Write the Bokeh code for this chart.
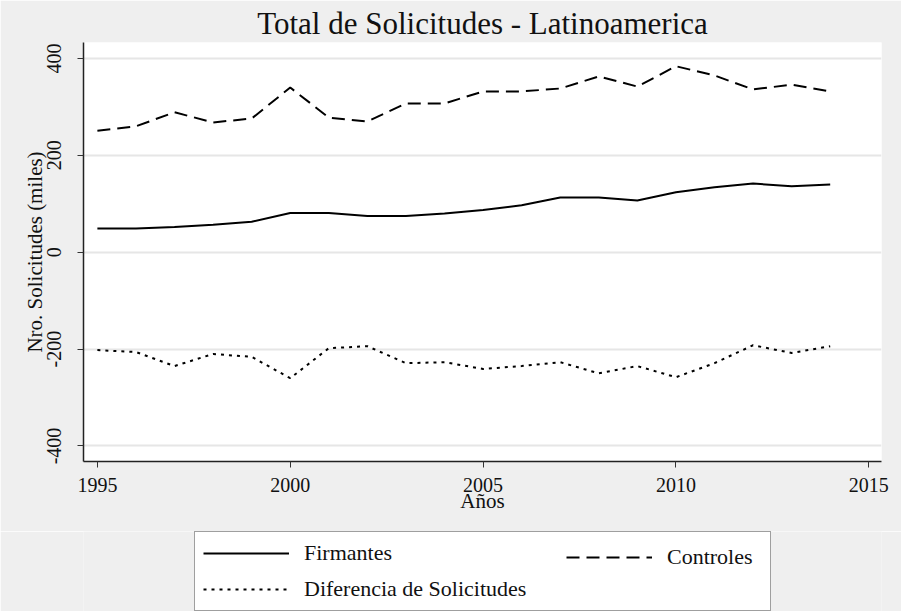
from bokeh.plotting import figure
from bokeh.layouts import column
from bokeh.models import Range1d, Legend, LegendItem, FixedTicker, ColumnDataSource
from bokeh.embed import file_html
from bokeh.resources import INLINE

years = list(range(1995, 2015))
firmantes = [49, 49, 52, 57, 63, 81, 81, 75, 75, 80, 87, 97, 113, 113, 107, 124, 134, 142, 136, 140]
controles = [251, 260, 289, 268, 276, 340, 278, 270, 307, 307, 332, 332, 338, 363, 342, 384, 365, 336, 346, 332]
diferencia = [-202, -206, -235, -210, -216, -260, -198, -194, -229, -227, -241, -235, -227, -250, -235, -258, -229, -192, -208, -194]

x_ticks = [1995, 2000, 2005, 2010, 2015]
y_ticks = [-400, -200, 0, 200, 400]
labels = ["Firmantes", "Controles", "Diferencia de Solicitudes"]

FONT = "Liberation Serif"
BG = "#efefef"
DASHES = ["solid", "13 7", "3 5"]

src = ColumnDataSource(dict(year=years, f=firmantes, c=controles, d=diferencia))
cols = ["f", "c", "d"]

p = figure(frame_width=798, frame_height=419, output_backend="svg", toolbar_location=None,
           x_range=Range1d(1994.64, 2015.33), y_range=Range1d(-432, 433),
           background_fill_color="white", border_fill_color=BG,
           min_border_left=83, min_border_right=20, min_border_top=42, min_border_bottom=70)
p.outline_line_color = None

p.title.text = "Total de Solicitudes - Latinoamerica"
p.title.align = "center"
p.title.text_font = FONT
p.title.text_font_size = "31px"
p.title.text_font_style = "normal"
p.title.text_color = "#111111"
p.title.standoff = 4
p.title.offset = 0

for c, d in zip(cols, DASHES):
    p.line("year", c, source=src, line_color="black", line_width=2, line_dash=d)

p.xgrid.grid_line_color = None
p.ygrid.grid_line_color = "#e6e6e6"
p.ygrid.grid_line_width = 2
p.ygrid.ticker = FixedTicker(ticks=y_ticks)

p.xaxis.ticker = FixedTicker(ticks=x_ticks)
p.yaxis.ticker = FixedTicker(ticks=y_ticks)
p.yaxis.major_label_overrides = {t: str(t) for t in y_ticks}
for ax in (p.xaxis, p.yaxis):
    ax.minor_tick_line_color = None
    ax.major_tick_in = 0
    ax.major_tick_out = 6
    ax.axis_line_color = "#222222"
    ax.axis_line_width = 1.5
    ax.major_tick_line_color = "#333333"
    ax.major_label_text_font = FONT
    ax.major_label_text_font_size = "20px"
    ax.major_label_text_color = "#111111"
    ax.axis_label_text_font = FONT
    ax.axis_label_text_font_size = "21px"
    ax.axis_label_text_font_style = "normal"
    ax.axis_label_text_color = "#111111"

p.xaxis.axis_label = "Años"
p.xaxis.major_label_standoff = 10
p.xaxis.axis_label_standoff = -6
p.yaxis.axis_label = "Nro. Solicitudes (miles)"
p.yaxis.major_label_orientation = "vertical"
p.yaxis.major_label_standoff = 16
p.yaxis.axis_label_standoff = -2

# legend panel below the chart
lf = figure(frame_width=798, frame_height=80, output_backend="svg", toolbar_location=None,
            x_range=Range1d(1994.64, 2015.33), y_range=Range1d(-432, 433),
            background_fill_color=BG, border_fill_color=BG,
            min_border_left=83, min_border_right=20, min_border_top=0, min_border_bottom=0)
lf.outline_line_color = None
lf.axis.visible = False
lf.grid.visible = False
lrs = [lf.line("year", c, source=src, line_color="black", line_width=2, line_dash=d, visible=False)
       for c, d in zip(cols, DASHES)]


def style(lg):
    lg.label_text_font = FONT
    lg.label_text_font_size = "22px"
    lg.label_text_color = "#111111"
    lg.glyph_width = 86
    lg.glyph_height = 24
    lg.label_height = 24
    lg.label_standoff = 15
    lg.spacing = 10
    lg.padding = 8
    lg.margin = 0


leg_main = Legend(items=[LegendItem(label=labels[0], renderers=[lrs[0]]),
                         LegendItem(label=labels[2], renderers=[lrs[2]])],
                  orientation="vertical", location=(111, 0))
style(leg_main)
leg_main.label_width = 458
leg_main.border_line_color = "#404040"
leg_main.border_line_width = 1
leg_main.background_fill_color = "white"
leg_main.background_fill_alpha = 1

leg_right = Legend(items=[LegendItem(label=labels[1], renderers=[lrs[1]])],
                   orientation="vertical", location=(483, 41))
style(leg_right)
leg_right.padding = 10
leg_right.border_line_color = None
leg_right.background_fill_alpha = 0

lf.add_layout(leg_main, "center")
lf.add_layout(leg_right, "center")

layout = column(p, lf, spacing=0)
open("out.html", "w").write(file_html(layout, INLINE))
